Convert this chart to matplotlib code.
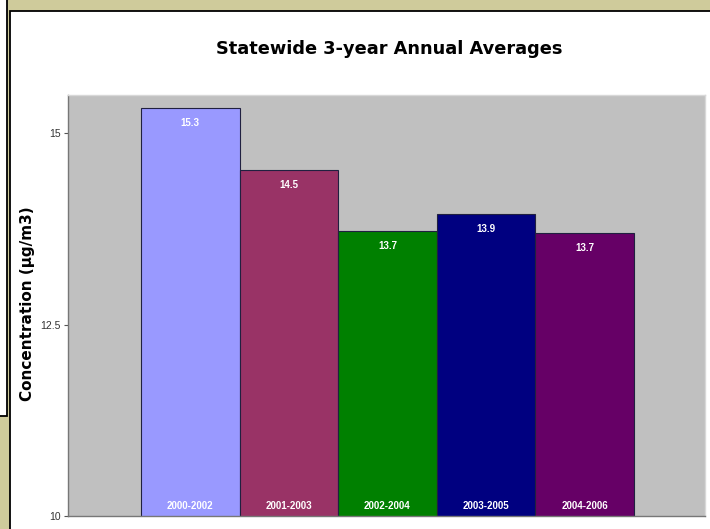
import numpy as np
import matplotlib
matplotlib.use("Agg")
import matplotlib.pyplot as plt
from matplotlib.patches import Rectangle

# data
periods = ["2000-2002", "2001-2003", "2002-2004", "2003-2005", "2004-2006"]
averages = [15.33, 14.52, 13.72, 13.94, 13.70]
bar_colors = ["#9999FF", "#993366", "#008000", "#000080", "#660066"]
y_ticks = [10, 12.5, 15]
y_tick_labels = ["10", "12.5", "15"]

plt.rcParams["font.family"] = ["Liberation Sans", "DejaVu Sans"]

W, H = 710, 529
fig = plt.figure(figsize=(W / 100, H / 100), dpi=100)
fig.patch.set_facecolor("#cfcb9b")

# slide panels (pixel coords -> figure fraction)
def px_rect(x0, y0, x1, y1, **kw):
    return Rectangle((x0 / W, 1 - y1 / H), (x1 - x0) / W, (y1 - y0) / H,
                     transform=fig.transFigure, zorder=-10, **kw)

fig.patches.append(px_rect(10, 11, 720, 540, facecolor="white",
                           edgecolor="black", linewidth=1.3))
fig.patches.append(px_rect(-5, -5, 7, 416, facecolor="white",
                           edgecolor="black", linewidth=1.3))

ax = fig.add_axes([68 / W, 1 - 516 / H, 637 / W, 421 / H])
ax.set_facecolor("#c0c0c0")

x = np.arange(len(periods))
bars = ax.bar(x, averages, width=1.0, color=bar_colors,
              edgecolor="#202040", linewidth=0.8, zorder=2)

for xi, v in zip(x, averages):
    ax.text(xi, v - 0.13, "%.1f" % v, ha="center", va="top",
            color="white", fontsize=7, fontweight="bold", zorder=3)
for xi, lab in zip(x, periods):
    ax.text(xi, 10.06, lab, ha="center", va="bottom",
            color="white", fontsize=7, fontweight="bold", zorder=3)

ax.set_xlim(-1.24, 5.22)
ax.set_ylim(10, 15.5)
ax.set_xticks([])
ax.set_yticks(y_ticks)
ax.set_yticklabels(y_tick_labels, fontsize=7.5, color="#333333")
ax.tick_params(axis="y", length=3, width=0.8, color="#555555", pad=2)

for side in ["top", "right"]:
    ax.spines[side].set_color("#d8d8d8")
    ax.spines[side].set_linewidth(1.0)
for side in ["left", "bottom"]:
    ax.spines[side].set_color("#777777")
    ax.spines[side].set_linewidth(1.0)

ax.set_ylabel("Concentration (\u00b5g/m3)", fontsize=11, fontweight="bold",
              family="DejaVu Sans")
ax.yaxis.set_label_coords(-0.052, 0.505)

fig.text(389 / W, 1 - 49 / H, "Statewide 3-year Annual Averages",
         ha="center", va="center", fontsize=12.8, fontweight="bold",
         family="DejaVu Sans")

plt.savefig("out.png", dpi=100, facecolor=fig.get_facecolor())
